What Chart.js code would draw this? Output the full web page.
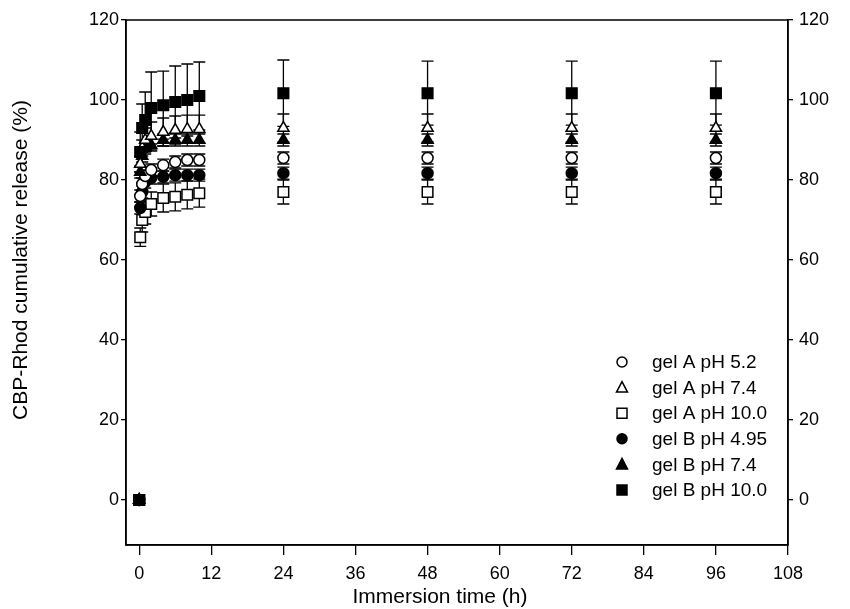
<!DOCTYPE html>
<html>
<head>
<meta charset="utf-8">
<script src="https://cdn.jsdelivr.net/npm/chart.js@4.4.0/dist/chart.umd.min.js"></script>
<style>
  html, body { margin: 0; padding: 0; background: #fff; }
  #wrap { width: 850px; height: 609px; }
</style>
</head>
<body>
<div id="wrap"><canvas id="releaseChart" width="850" height="609"></canvas></div>
<script>
// Datos
const times = [0, 0.17, 0.5, 1, 2, 4, 6, 8, 10, 24, 48, 72, 96];

const gelA52 = [0, 76, 79, 81, 82.5, 83.7, 84.5, 85, 85, 85.5, 85.5, 85.5, 85.5];
const gelA74 = [0, 84, 88, 90, 91, 92, 92.5, 92.7, 92.7, 93, 93, 93, 93];
const gelA10 = [0, 65.7, 70, 72, 74, 75.5, 75.8, 76.3, 76.7, 77, 77, 77, 77];
const gelB495 = [0, 73, 77, 79.5, 80.5, 80.8, 81.2, 81.2, 81.2, 81.7, 81.7, 81.7, 81.7];
const gelB74 = [0, 82, 86, 88, 88.7, 90, 90, 90, 90, 90, 90, 90, 90];
const gelB10 = [0, 87, 93, 95, 98, 98.7, 99.5, 100, 101, 101.7, 101.7, 101.7, 101.7];

// Desviaciones (barras de error)
const errA52 = [0, 1.5, 1.5, 1.5, 1.5, 1.5, 1.5, 1.5, 1.5, 1.5, 1.5, 1.5, 1.5];
const errA74 = [0, 2, 2, 3, 3.5, 3.5, 3.5, 3.5, 3.5, 3.5, 3.5, 3.5, 3.5];
const errA10 = [0, 2.3, 3, 3, 3, 3.5, 3.5, 3.5, 3.5, 3, 3, 3, 3];
const errB495 = [0, 1.5, 1.5, 1.5, 1.5, 1.5, 1.5, 1.5, 1.5, 1.5, 1.5, 1.5, 1.5];
const errB74 = [0, 1.5, 1.5, 1.5, 1.5, 1.5, 1.5, 1.5, 1.5, 1.5, 1.5, 1.5, 1.5];
const errB10 = [0, 5, 6, 7, 9, 8.5, 9, 9, 8.5, 8.3, 8, 8, 8];

const xTicks = [0, 12, 24, 36, 48, 60, 72, 84, 96, 108];
const yTicks = [0, 20, 40, 60, 80, 100, 120];

const legendLabels = ['gel A pH 5.2', 'gel A pH 7.4', 'gel A pH 10.0', 'gel B pH 4.95', 'gel B pH 7.4', 'gel B pH 10.0'];
const xTitle = 'Immersion time (h)';
const yTitle = 'CBP-Rhod cumulative release (%)';

const FONT = "'Liberation Sans', Arial, Helvetica, sans-serif";

const series = [
    { label: legendLabels[0], values: gelA52, err: errA52, style: 'circle', fill: '#fff', radius: 5.5, order: 4 },
    { label: legendLabels[1], values: gelA74, err: errA74, style: 'triangle', fill: '#fff', radius: 6.5, order: 2 },
    { label: legendLabels[2], values: gelA10, err: errA10, style: 'rect', fill: '#fff', radius: 7.5, order: 6 },
    { label: legendLabels[3], values: gelB495, err: errB495, style: 'circle', fill: '#000', radius: 5.5, order: 5 },
    { label: legendLabels[4], values: gelB74, err: errB74, style: 'triangle', fill: '#000', radius: 6.5, order: 3 },
    { label: legendLabels[5], values: gelB10, err: errB10, style: 'rect', fill: '#000', radius: 7.5, order: 0 }
];

// Barras de error dibujadas debajo de los marcadores
const errorBars = {
    id: 'errorBars',
    beforeDatasetsDraw(chart) {
        const ctx = chart.ctx;
        const xs = chart.scales.x;
        const ys = chart.scales.y;
        ctx.save();
        ctx.strokeStyle = '#000';
        ctx.lineWidth = 1.3;
        series.forEach(s => {
            s.values.forEach((v, i) => {
                const e = s.err[i];
                if (!e) return;
                const px = xs.getPixelForValue(times[i]);
                const top = ys.getPixelForValue(v + e);
                const bot = ys.getPixelForValue(v - e);
                ctx.beginPath();
                ctx.moveTo(px, top); ctx.lineTo(px, bot);
                ctx.moveTo(px - 6, top); ctx.lineTo(px + 6, top);
                ctx.moveTo(px - 6, bot); ctx.lineTo(px + 6, bot);
                ctx.stroke();
            });
        });
        ctx.restore();
    }
};

// Marco completo, títulos de ejes y leyenda dentro del área
const frameAndLegend = {
    id: 'frameAndLegend',
    afterDraw(chart) {
        const ctx = chart.ctx;
        const a = chart.chartArea;
        ctx.save();
        ctx.strokeStyle = '#000';
        ctx.lineWidth = 1.5;
        ctx.strokeRect(a.left, a.top, a.right - a.left, a.bottom - a.top);

        // títulos
        ctx.fillStyle = '#000';
        ctx.font = '21px ' + FONT;
        ctx.textAlign = 'center';
        ctx.textBaseline = 'middle';
        ctx.fillText(xTitle, 440, 597);
        ctx.save();
        ctx.translate(21, 260);
        ctx.rotate(-Math.PI / 2);
        ctx.fillText(yTitle, 0, 0);
        ctx.restore();

        // leyenda
        const x0 = 622, y0 = 362, step = 25.6;
        ctx.font = '19px ' + FONT;
        ctx.textAlign = 'left';
        series.forEach((s, i) => {
            const y = y0 + i * step;
            ctx.beginPath();
            ctx.lineWidth = 1.5;
            ctx.fillStyle = s.fill;
            if (s.style === 'circle') {
                ctx.arc(x0, y, 5, 0, Math.PI * 2);
            } else if (s.style === 'triangle') {
                ctx.moveTo(x0, y - 6);
                ctx.lineTo(x0 + 5.5, y + 4.5);
                ctx.lineTo(x0 - 5.5, y + 4.5);
                ctx.closePath();
            } else {
                ctx.rect(x0 - 5, y - 5, 10, 10);
            }
            ctx.fill();
            ctx.stroke();
            ctx.fillStyle = '#000';
            ctx.fillText(s.label, 652, y + 1);
        });
        ctx.restore();
    }
};

const tickFont = { family: FONT, size: 18 };

new Chart(document.getElementById('releaseChart'), {
    type: 'scatter',
    data: {
        datasets: series.map(s => ({
            label: s.label,
            data: times.map((t, i) => ({ x: t, y: s.values[i] })),
            showLine: false,
            pointStyle: s.style,
            pointRadius: s.radius,
            pointHoverRadius: s.radius,
            pointBackgroundColor: s.fill,
            pointBorderColor: '#000',
            pointBorderWidth: 1.5,
            order: s.order
        }))
    },
    options: {
        responsive: false,
        animation: false,
        devicePixelRatio: 1,
        layout: { padding: { top: 20, left: 0, right: 0, bottom: 0 } },
        plugins: {
            legend: { display: false },
            tooltip: { enabled: false }
        },
        scales: {
            x: {
                type: 'linear',
                position: 'bottom',
                min: -2.2,
                max: 108,
                afterBuildTicks: (axis) => { axis.ticks = xTicks.map(v => ({ value: v })); },
                afterFit: (axis) => { axis.height = 64; },
                grid: { drawOnChartArea: false, drawTicks: true, tickLength: 10, color: '#000', lineWidth: 1.3 },
                border: { display: true, color: '#000', width: 1.5 },
                ticks: { font: tickFont, color: '#000', padding: 8, maxRotation: 0 }
            },
            y: {
                type: 'linear',
                position: 'left',
                min: -11.25,
                max: 120,
                afterBuildTicks: (axis) => { axis.ticks = yTicks.map(v => ({ value: v })); },
                afterFit: (axis) => { axis.width = 126; },
                grid: { drawOnChartArea: false, drawTicks: true, tickLength: 5, color: '#000', lineWidth: 1.3 },
                border: { display: true, color: '#000', width: 1.5 },
                ticks: { font: tickFont, color: '#000', padding: 2 }
            },
            y2: {
                type: 'linear',
                position: 'right',
                display: true,
                min: -11.25,
                max: 120,
                afterBuildTicks: (axis) => { axis.ticks = yTicks.map(v => ({ value: v })); },
                afterFit: (axis) => { axis.width = 62; },
                grid: { drawOnChartArea: false, drawTicks: true, tickLength: 5, color: '#000', lineWidth: 1.3 },
                border: { display: true, color: '#000', width: 1.5 },
                ticks: { font: tickFont, color: '#000', padding: 6 }
            }
        }
    },
    plugins: [errorBars, frameAndLegend]
});
</script>
</body>
</html>
